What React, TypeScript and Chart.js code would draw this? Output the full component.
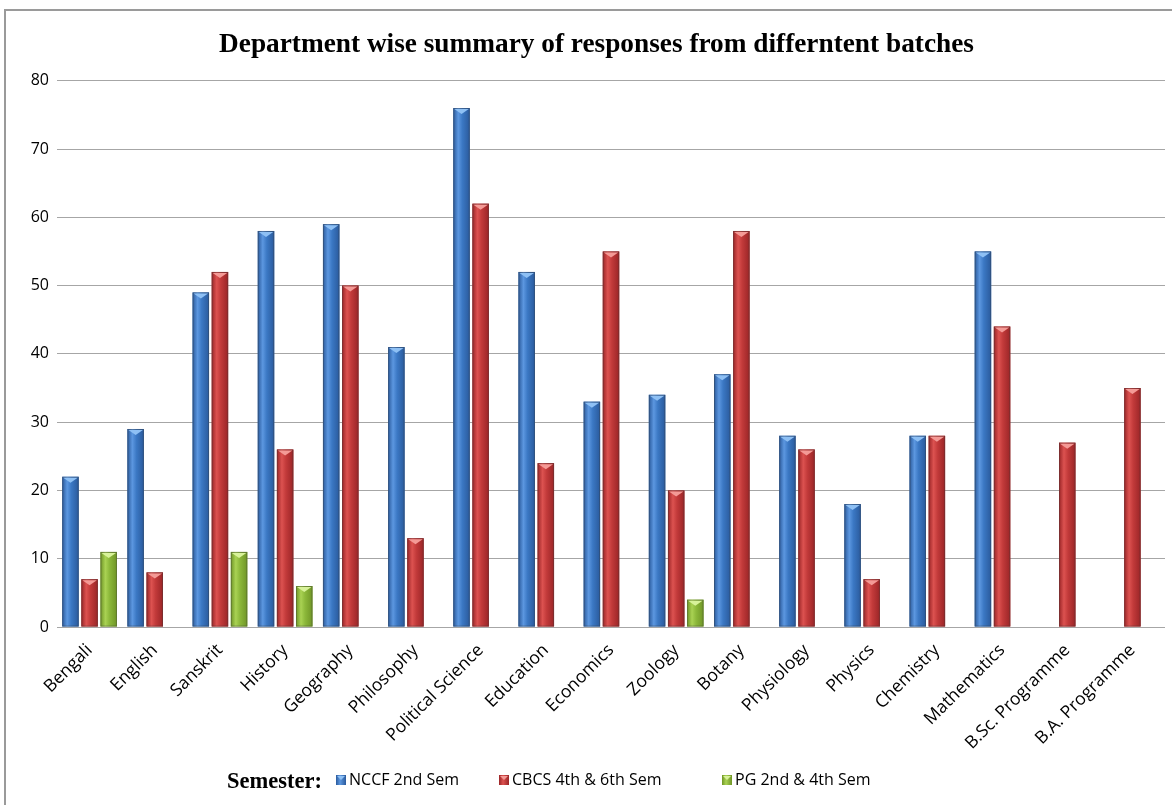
import React, { useEffect, useRef } from "react";
import { Chart, registerables } from "chart.js";

Chart.register(...registerables);

const titleText = "Department wise summary of responses from differntent batches";
const legendPrefix = "Semester:";
const categories = [
  "Bengali", "English", "Sanskrit", "History", "Geography", "Philosophy",
  "Political Science", "Education", "Economics", "Zoology", "Botany",
  "Physiology", "Physics", "Chemistry", "Mathematics", "B.Sc. Programme", "B.A. Programme",
];
const seriesNames = ["NCCF 2nd Sem", "CBCS 4th & 6th Sem", "PG 2nd & 4th Sem"];
const ncctValues = [22, 29, 49, 58, 59, 41, 76, 52, 33, 34, 37, 28, 18, 28, 55, null, null];
const cbcsValues = [7, 8, 52, 26, 50, 13, 62, 24, 55, 20, 58, 26, 7, 28, 44, 27, 35];
const pgValues = [11, null, 11, 6, null, null, null, null, null, 4, null, null, null, null, null, null, null];
const yTicks = [0, 10, 20, 30, 40, 50, 60, 70, 80];

const palettes = [
  { base: "#3b78c4", dark: "#2a5a9c", light: "#5c97e0", cap: "#8ec0f4" },
  { base: "#c23a3a", dark: "#9a2527", light: "#dc5250", cap: "#f49a96" },
  { base: "#8cb83a", dark: "#6f9526", light: "#a9d253", cap: "#d8f29a" },
];

const barStylePlugin = {
  id: "barStyle",
  afterDatasetsDraw(chart: any) {
    const ctx = chart.ctx;
    const area = chart.chartArea;
    ctx.save();
    ctx.beginPath();
    ctx.rect(area.left, area.top - 2, area.right - area.left, area.bottom - area.top + 2);
    ctx.clip();
    chart.data.datasets.forEach((ds: any, di: number) => {
      const meta = chart.getDatasetMeta(di);
      const pal = palettes[di];
      meta.data.forEach((el: any, i: number) => {
        const v = ds.data[i];
        if (v === null || v === undefined) return;
        const { x, y, base, width } = el.getProps(["x", "y", "base", "width"], true);
        const l = x - width / 2;
        const r = x + width / 2;
        const g = ctx.createLinearGradient(l, 0, r, 0);
        g.addColorStop(0, pal.dark);
        g.addColorStop(0.3, pal.light);
        g.addColorStop(0.55, pal.base);
        g.addColorStop(1, pal.dark);
        ctx.fillStyle = g;
        ctx.fillRect(l, y, width, base - y);
        ctx.strokeStyle = "rgba(60,60,60,0.35)";
        ctx.lineWidth = 1;
        ctx.strokeRect(l + 0.5, y + 0.5, width - 1, base - y - 1);
        ctx.fillStyle = pal.cap;
        ctx.beginPath();
        ctx.moveTo(l + 1, y + 1);
        ctx.lineTo(r - 1, y + 1);
        ctx.lineTo(x, y + Math.min(6, (base - y) / 2));
        ctx.closePath();
        ctx.fill();
      });
    });
    ctx.restore();
  },
};

const legendItemStarts = [336, 499, 722];

const customLegendPlugin = {
  id: "customLegend",
  afterDraw(chart: any) {
    const ctx = chart.ctx;
    const cy = 780;
    ctx.save();
    ctx.textBaseline = "middle";
    ctx.textAlign = "right";
    ctx.fillStyle = "#000";
    ctx.font = "bold 22.5px 'Liberation Serif', 'Times New Roman', serif";
    ctx.fillText(legendPrefix, 322, cy + 2);
    ctx.textAlign = "left";
    ctx.font = "16px 'Open Sans', sans-serif";
    chart.data.datasets.forEach((ds: any, di: number) => {
      const pal = palettes[di];
      const x = legendItemStarts[di];
      const g = ctx.createLinearGradient(x, 0, x + 10, 0);
      g.addColorStop(0, pal.dark);
      g.addColorStop(0.4, pal.light);
      g.addColorStop(1, pal.dark);
      ctx.fillStyle = g;
      ctx.fillRect(x, cy - 5, 10, 10);
      ctx.fillStyle = pal.cap;
      ctx.beginPath();
      ctx.moveTo(x + 1, cy - 4);
      ctx.lineTo(x + 9, cy - 4);
      ctx.lineTo(x + 5, cy);
      ctx.closePath();
      ctx.fill();
      ctx.fillStyle = "#000";
      ctx.fillText(ds.label, x + 13, cy);
    });
    ctx.restore();
  },
};

export default function App() {
  const canvasRef = useRef<HTMLCanvasElement | null>(null);

  useEffect(() => {
    if (!canvasRef.current) return;
    const chart = new Chart(canvasRef.current, {
      type: "bar",
      data: {
        labels: categories,
        datasets: [
          { label: seriesNames[0], data: ncctValues, backgroundColor: palettes[0].base },
          { label: seriesNames[1], data: cbcsValues, backgroundColor: palettes[1].base },
          { label: seriesNames[2], data: pgValues, backgroundColor: palettes[2].base },
        ],
      },
      options: {
        responsive: false,
        animation: false,
        devicePixelRatio: 1,
        layout: { padding: { left: 28, right: 7, top: 0, bottom: 48 } },
        datasets: { bar: { categoryPercentage: 0.88, barPercentage: 0.86 } },
        plugins: {
          title: {
            display: true,
            text: titleText,
            color: "#000",
            font: { family: "'Liberation Serif', 'Times New Roman', serif", size: 27.3, weight: "bold" },
            padding: { top: 29, bottom: 19 },
          },
          legend: { display: false },
          tooltip: { enabled: false },
        },
        scales: {
          x: {
            grid: { display: false, drawTicks: false },
            border: { display: false },
            ticks: {
              color: "#000",
              minRotation: 45,
              maxRotation: 45,
              autoSkip: false,
              padding: 13,
              font: { family: "'Open Sans', sans-serif", size: 17.5 },
            },
            afterFit(scale: any) {
              scale.height = 130;
            },
          },
          y: {
            min: 0,
            max: 80,
            afterBuildTicks(scale: any) {
              scale.ticks = yTicks.map((v) => ({ value: v }));
            },
            grid: { color: "#a6a6a6", lineWidth: 1, drawTicks: false },
            border: { display: false },
            ticks: {
              color: "#000",
              padding: 8,
              font: { family: "'Open Sans', sans-serif", size: 16 },
            },
            afterFit(scale: any) {
              scale.width = 29;
            },
          },
        },
      },
      plugins: [barStylePlugin, customLegendPlugin],
    } as any);
    return () => chart.destroy();
  }, []);

  return (
    <div style={{ position: "fixed", left: 0, top: 0, width: 1172, height: 805, background: "#fff", overflow: "hidden" }}>
      <div
        style={{
          position: "absolute",
          left: 4,
          top: 9,
          width: 1200,
          height: 820,
          border: "2px solid #9a9a9a",
          boxSizing: "border-box",
        }}
      />
      <canvas ref={canvasRef} width={1172} height={805} style={{ position: "absolute", left: 0, top: 0 }} />
    </div>
  );
}
